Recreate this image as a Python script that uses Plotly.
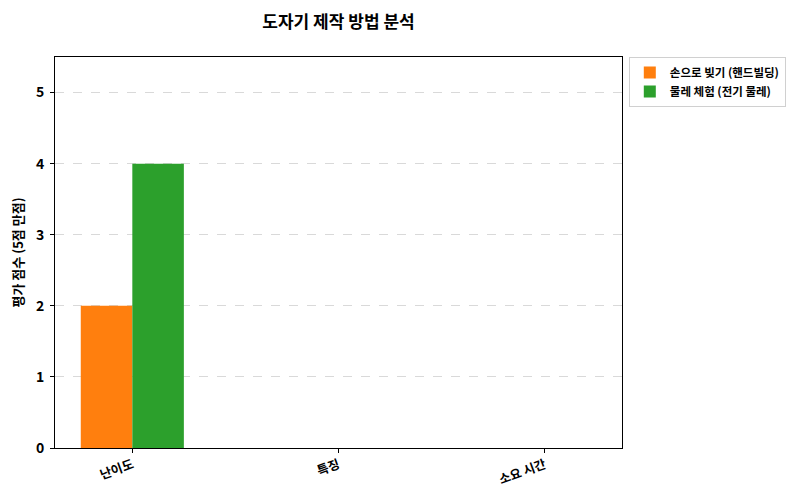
import plotly.graph_objects as go

categories = ['난이도', '특징', '소요 시간']
handbuilding = [2, None, None]
wheel = [4, None, None]
series_names = ['손으로 빚기 (핸드빌딩)', '물레 체험 (전기 물레)']

FONT = 'Noto Sans CJK KR'

fig = go.Figure()
fig.add_trace(go.Bar(x=categories, y=handbuilding, name='<b>' + series_names[0] + '</b>',
                     marker=dict(color='#ff7f0e', line=dict(width=0))))
fig.add_trace(go.Bar(x=categories, y=wheel, name='<b>' + series_names[1] + '</b>',
                     marker=dict(color='#2ca02c', line=dict(width=0))))

# page body adds an 8px offset, so the figure is a bit smaller
fig.update_layout(
    width=792, height=492,
    margin=dict(l=47, r=178, t=49, b=52),
    plot_bgcolor='white', paper_bgcolor='white',
    barmode='group', bargap=0.5, bargroupgap=0,
    font=dict(family=FONT, color='black', size=12),
    title=dict(text='<b>도자기 제작 방법 분석</b>', x=0.5, xref='paper',
               y=0.972, yref='container', yanchor='middle',
               font=dict(size=17, family=FONT)),
    legend=dict(x=1.012, y=1.0, xanchor='left', yanchor='top',
                bgcolor='white', bordercolor='#d0d0d0', borderwidth=1,
                font=dict(size=11.5, family=FONT), tracegroupgap=2),
    showlegend=True,
)

fig.update_xaxes(
    range=[-0.375, 2.375], showline=True, linecolor='black', linewidth=1,
    mirror=True, ticks='outside', ticklen=4, tickcolor='black',
    tickangle=-20, tickfont=dict(size=12.5, family=FONT),
    tickprefix='<b>', ticksuffix='</b>', showgrid=False, automargin=False,
)
fig.update_yaxes(
    range=[0, 5.5], dtick=1, showline=True, linecolor='black', linewidth=1,
    mirror=True, ticks='outside', ticklen=4, tickcolor='black',
    tickfont=dict(size=14, family=FONT), tickprefix='<b>', ticksuffix='</b>',
    ticklabelstandoff=3, automargin=False,
    showgrid=True, gridcolor='#d9d9d9', griddash='dash', gridwidth=1,
    zeroline=False,
    title=dict(text='<b>평가 점수 (5점 만점)</b>', font=dict(size=13, family=FONT), standoff=12),
)

fig.write_html("out.html")
